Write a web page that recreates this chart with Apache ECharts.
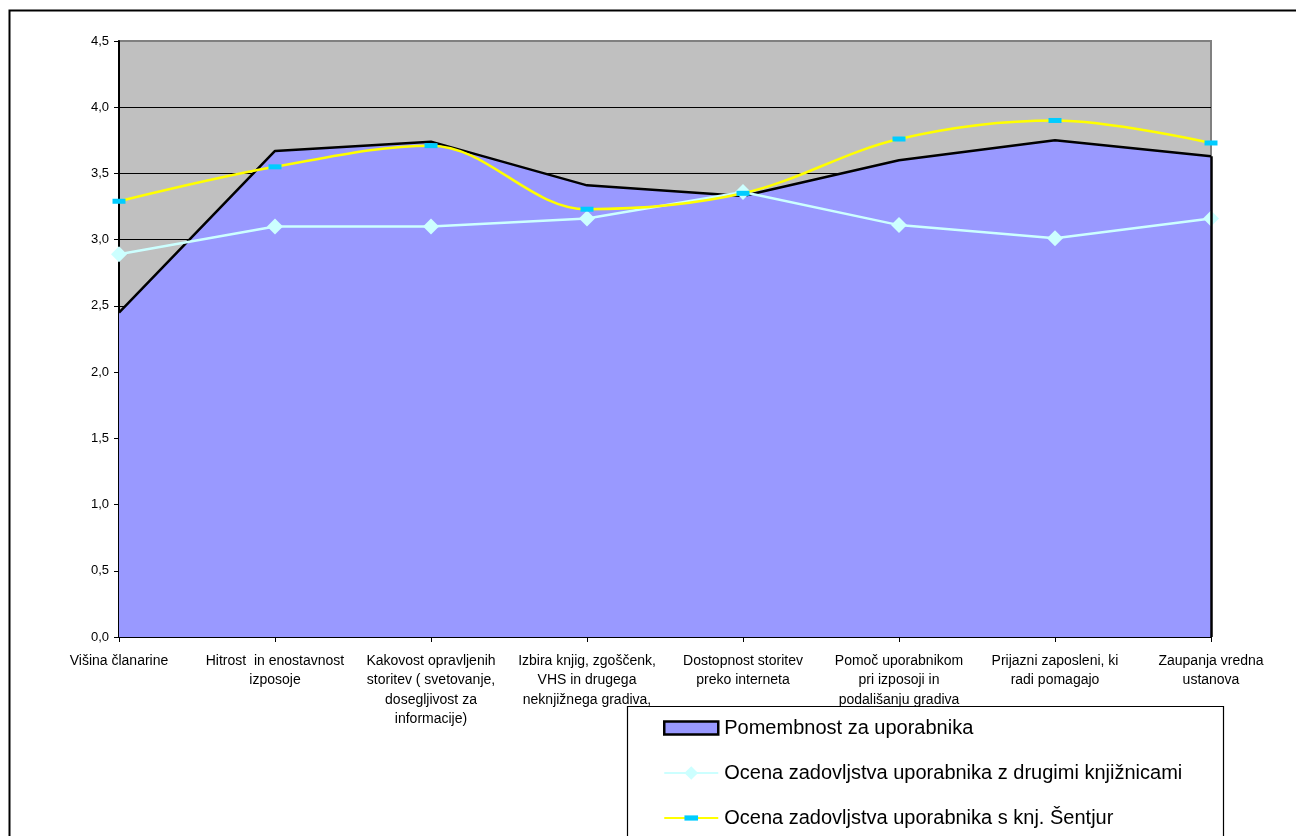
<!DOCTYPE html>
<html>
<head>
<meta charset="utf-8">
<title>Pomembnost in zadovoljstvo uporabnikov</title>
<script src="https://cdn.jsdelivr.net/npm/echarts@6/dist/echarts.min.js"></script>
<style>
  html, body { margin: 0; padding: 0; background: #ffffff; }
  #chart { width: 1296px; height: 836px; }
</style>
</head>
<body>
<div id="chart"></div>
<script>
// Categories (services rated by library users)
const categories = [
  'Višina članarine',
  'Hitrost  in enostavnost\nizposoje',
  'Kakovost opravljenih\nstoritev ( svetovanje,\ndosegljivost za\ninformacije)',
  'Izbira knjig, zgoščenk,\nVHS in drugega\nneknjižnega gradiva,',
  'Dostopnost storitev\npreko interneta',
  'Pomoč uporabnikom\npri izposoji in\npodališanju gradiva',
  'Prijazni zaposleni, ki\nradi pomagajo',
  'Zaupanja vredna\nustanova'
];

const seriesNames = [
  'Pomembnost za uporabnika',
  'Ocena zadovljstva uporabnika z drugimi knjižnicami',
  'Ocena zadovljstva uporabnika s knj. Šentjur'
];

// Importance for the user
const importance = [2.45, 3.67, 3.74, 3.41, 3.33, 3.60, 3.75, 3.63];
// Satisfaction with other libraries
const otherLibraries = [2.89, 3.10, 3.10, 3.16, 3.36, 3.11, 3.01, 3.16];
// Satisfaction with the Šentjur library
const sentjurLibrary = [3.29, 3.55, 3.71, 3.23, 3.35, 3.76, 3.90, 3.73];

// Value axis ticks
const yTickLabels = ['0,0', '0,5', '1,0', '1,5', '2,0', '2,5', '3,0', '3,5', '4,0', '4,5'];

// Flat dash marker inside a square box, so it keeps its shape in the legend too
const dashSymbol = 'path://M0,0M13,13M0,4L13,4L13,9L0,9Z';
// Legend swatch for the area series (wide, flat rectangle)
const areaSwatch = 'path://M0,0L54,0L54,13L0,13Z';

const chart = echarts.init(document.getElementById('chart'), null, { renderer: 'canvas' });

const lastIdx = categories.length - 1;
const splitColors = yTickLabels.map((_, i) => i === yTickLabels.length - 1 ? '#808080' : '#000000');

const option = {
  backgroundColor: '#ffffff',
  animation: false,
  textStyle: { fontFamily: 'Liberation Sans, Arial, sans-serif' },
  grid: {
    left: 119, right: 85, top: 41, bottom: 199,
    show: true,
    backgroundColor: '#C0C0C0',
    borderColor: '#808080',
    borderWidth: 2
  },
  xAxis: {
    type: 'category',
    data: categories,
    boundaryGap: false,
    axisLine: { show: true, lineStyle: { color: '#000000', width: 2 } },
    axisTick: { show: true, alignWithLabel: true, length: 5, lineStyle: { color: '#000000', width: 1 } },
    axisLabel: {
      interval: 0,
      margin: 14,
      color: '#000000',
      fontSize: 14,
      lineHeight: 19.5,
      align: 'center'
    },
    splitLine: { show: false }
  },
  yAxis: {
    type: 'value',
    min: 0,
    max: 4.5,
    interval: 0.5,
    axisLine: { show: true, lineStyle: { color: '#000000', width: 2 } },
    axisTick: { show: true, length: 5, lineStyle: { color: '#000000', width: 1 } },
    axisLabel: {
      color: '#000000',
      fontSize: 13,
      margin: 10,
      formatter: (v) => yTickLabels[Math.round(v / 0.5)]
    },
    splitLine: { show: true, lineStyle: { color: splitColors, width: 1 } }
  },
  legend: {
    orient: 'vertical',
    left: 663,
    top: 717,
    padding: 0,
    itemGap: 23,
    itemWidth: 54,
    itemHeight: 17,
    textStyle: { fontSize: 20, color: '#000000', lineHeight: 22, padding: [0, 0, 0, 1] },
    data: [
      { name: seriesNames[0], icon: areaSwatch, itemStyle: { color: '#9999FF', borderColor: '#000000', borderWidth: 2.5 } },
      { name: seriesNames[1] },
      { name: seriesNames[2] }
    ]
  },
  graphic: [
    // chart frame (top and left edges)
    { type: 'polyline', z: 100, silent: true,
      shape: { points: [[9.5, 836], [9.5, 10.5], [1296, 10.5]] },
      style: { stroke: '#000000', lineWidth: 2, fill: null } },
    // legend box
    { type: 'rect', z: -1, silent: true,
      shape: { x: 627.5, y: 706.5, width: 596, height: 140 },
      style: { stroke: '#000000', lineWidth: 1.2, fill: '#ffffff' } }
  ],
  series: [
    {
      name: seriesNames[0],
      type: 'line',
      data: importance,
      symbol: 'none',
      z: 2,
      lineStyle: { color: '#000000', width: 2.5 },
      itemStyle: { color: '#9999FF', borderColor: '#000000' },
      areaStyle: { color: '#9999FF', opacity: 1 },
      markLine: {
        silent: true,
        symbol: 'none',
        label: { show: false },
        lineStyle: { color: '#000000', width: 2.5, type: 'solid' },
        data: [[
          { coord: [lastIdx, 0] },
          { coord: [lastIdx, importance[lastIdx]] }
        ]]
      }
    },
    {
      name: seriesNames[1],
      type: 'line',
      data: otherLibraries,
      z: 3,
      symbol: 'diamond',
      symbolSize: 16,
      lineStyle: { color: '#CCFFFF', width: 2.5 },
      itemStyle: { color: '#CCFFFF', borderWidth: 0 }
    },
    {
      name: seriesNames[2],
      type: 'line',
      data: sentjurLibrary,
      z: 4,
      smooth: 0.35,
      symbol: dashSymbol,
      symbolSize: 13,
      lineStyle: { color: '#FFFF00', width: 2.5 },
      itemStyle: { color: '#00CCFF', borderWidth: 0 }
    }
  ]
};

chart.setOption(option);
</script>
</body>
</html>
